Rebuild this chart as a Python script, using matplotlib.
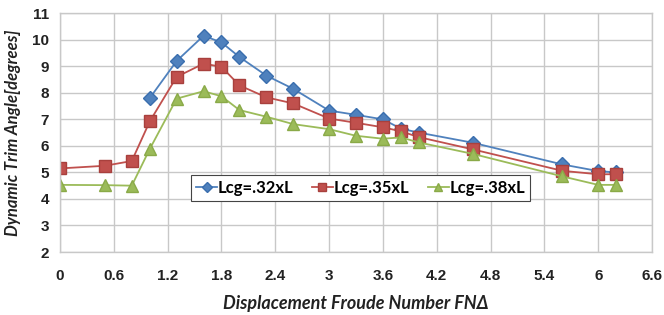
import matplotlib
matplotlib.use("Agg")
import matplotlib.pyplot as plt

x_32 = [1.0, 1.3, 1.6, 1.8, 2.0, 2.3, 2.6, 3.0, 3.3, 3.6, 3.8, 4.0, 4.6, 5.6, 6.0, 6.2]
y_32 = [7.8, 9.2, 10.15, 9.9, 9.35, 8.65, 8.15, 7.33, 7.17, 7.0, 6.65, 6.5, 6.12, 5.3, 5.05, 5.0]

x_35 = [0.0, 0.5, 0.8, 1.0, 1.3, 1.6, 1.8, 2.0, 2.3, 2.6, 3.0, 3.3, 3.6, 3.8, 4.0, 4.6, 5.6, 6.0, 6.2]
y_35 = [5.15, 5.25, 5.43, 6.92, 8.6, 9.1, 8.98, 8.28, 7.83, 7.6, 7.03, 6.87, 6.7, 6.55, 6.33, 5.87, 5.06, 4.93, 4.93]

x_38 = [0.0, 0.5, 0.8, 1.0, 1.3, 1.6, 1.8, 2.0, 2.3, 2.6, 3.0, 3.3, 3.6, 3.8, 4.0, 4.6, 5.6, 6.0, 6.2]
y_38 = [4.53, 4.52, 4.5, 5.88, 7.78, 8.06, 7.87, 7.35, 7.1, 6.82, 6.63, 6.38, 6.27, 6.32, 6.13, 5.7, 4.85, 4.53, 4.53]

labels = ["Lcg=.32xL", "Lcg=.35xL", "Lcg=.38xL"]
x_ticks = [0, 0.6, 1.2, 1.8, 2.4, 3, 3.6, 4.2, 4.8, 5.4, 6, 6.6]
x_tick_labels = ["0", "0.6", "1.2", "1.8", "2.4", "3", "3.6", "4.2", "4.8", "5.4", "6", "6.6"]
y_ticks = [2, 3, 4, 5, 6, 7, 8, 9, 10, 11]

fig = plt.figure(figsize=(6.64, 3.15), dpi=100)
ax = fig.add_axes([0.0904, 0.2, 0.8916, 0.758])

ax.plot(x_32, y_32, color="#4F81BD", lw=1.3, marker="D", ms=7, mfc="#4F81BD", mec="#3A6EAE", label=labels[0])
ax.plot(x_35, y_35, color="#C0504D", lw=1.3, marker="s", ms=8.5, mfc="#C0504D", mec="#A8403D", label=labels[1])
ax.plot(x_38, y_38, color="#9BBB59", lw=1.3, marker="^", ms=8.5, mfc="#9BBB59", mec="#8AAA48", label=labels[2])

ax.set_xlim(0, 6.6)
ax.set_ylim(2, 11)
ax.set_xticks(x_ticks)
ax.set_xticklabels(x_tick_labels)
ax.set_yticks(y_ticks)
ax.grid(True, color="#c8c8c8", lw=1.0)
ax.set_axisbelow(True)
for s in ax.spines.values():
    s.set_color("#c8c8c8")
    s.set_linewidth(1.0)
ax.tick_params(length=0, pad=12)
ax.tick_params(axis="y", pad=8)
for lab in ax.get_xticklabels() + ax.get_yticklabels():
    lab.set_fontfamily("Liberation Sans")
    lab.set_fontweight("bold")
    lab.set_fontsize(11)
    lab.set_color("#222222")

ax.set_xlabel("Displacement Froude Number FN\u0394", fontfamily=["Lato", "DejaVu Sans"], fontweight="bold",
              fontstyle="italic", fontsize=13, labelpad=9, color="#222222")
ax.set_ylabel("Dynamic Trim Angle[degrees]", fontfamily=["Lato", "DejaVu Sans"], fontweight="bold",
              fontstyle="italic", fontsize=12, labelpad=8, color="#222222")

leg = ax.legend(loc="center", bbox_to_anchor=(0.508, 0.268), ncol=3, frameon=True, fancybox=False,
                edgecolor="#444444", framealpha=1.0, handlelength=1.25, handletextpad=0.05,
                columnspacing=1.1, borderpad=0.3, borderaxespad=0,
                prop={"family": "Lato", "weight": "bold", "size": 12})
leg.get_frame().set_linewidth(0.8)
for h in leg.legend_handles:
    h.set_markersize(5.5)

fig.savefig("out.png", dpi=100)
